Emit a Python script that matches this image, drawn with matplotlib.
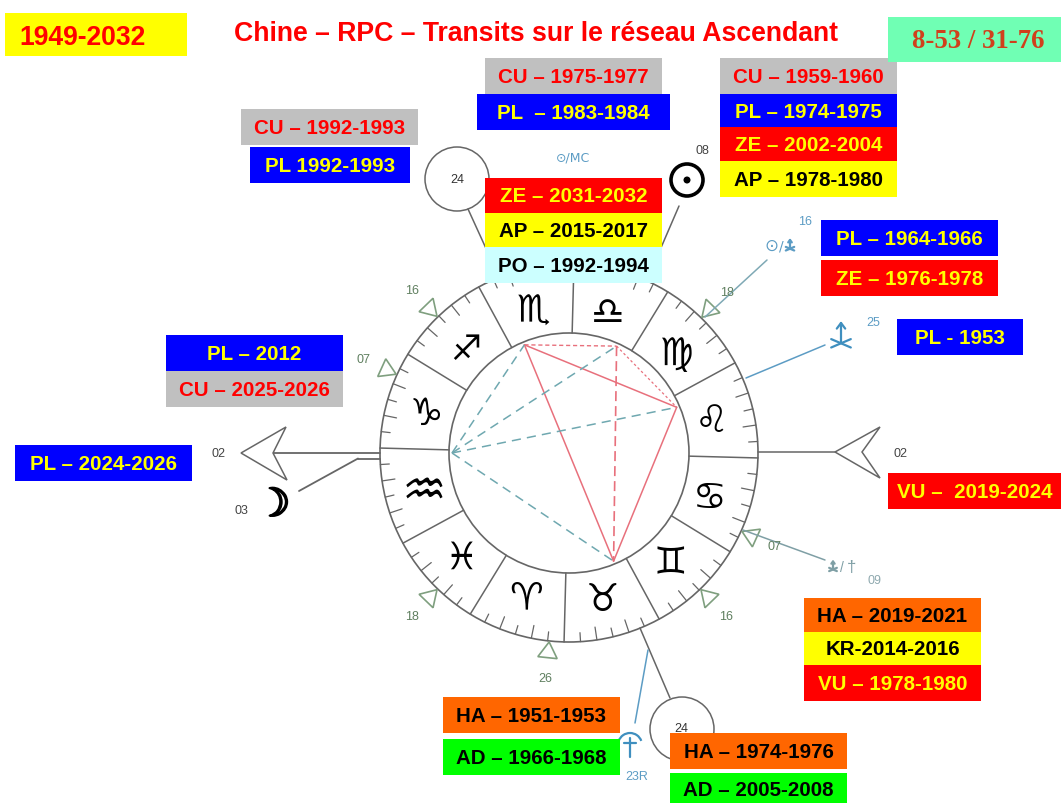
#!/usr/bin/env python3
# -*- coding: utf-8 -*-
import numpy as np
import matplotlib
matplotlib.use('Agg')
import matplotlib.pyplot as plt
import matplotlib.patheffects as pe
from matplotlib.patches import Circle, Polygon, Rectangle, Arc

# wheel
sign_glyphs = ['♌', '♍', '♎', '♏', '♐', '♑', '♒', '♓', '♈', '♉', '♊', '♋']
sign_angles = [13.5, 43.5, 74.5, 103.5, 133.5, 163.5, 193.5, 223.5, 253.5, 283.5, 313.5, 343.5]
sign_sizes = [27, 27, 27, 27, 25, 27, 36, 27, 27, 27, 27, 27]
cusp_angles = [-1.5, 28.5, 58.5, 88.5, 118.5, 148.5, 178.5, 208.5, 238.5, 268.5, 298.5, 328.5]

# open triangles on the rim and their degree labels
tri_angles = [134, 155.5, 226, 264, 314, 335.6, 45.6]
tri_labels = ['16', '07', '18', '26', '16', '07', '18']

# aspect points on the inner circle
asp_names = ['A', 'B', 'C', 'D', 'E']
asp_angles = [112.4, 66, 23, -67.6, 180]
red_solid = [('A', 'C'), ('A', 'D'), ('C', 'D')]
teal_dash = [('E', 'A'), ('E', 'B'), ('E', 'C'), ('E', 'D')]

# transit labels
labels = ['CU – 1992-1993', 'PL 1992-1993',
          'CU – 1975-1977', 'PL  – 1983-1984',
          'CU – 1959-1960', 'PL – 1974-1975', 'ZE – 2002-2004', 'AP – 1978-1980',
          'ZE – 2031-2032', 'AP – 2015-2017', 'PO – 1992-1994',
          'PL – 1964-1966', 'ZE – 1976-1978',
          'PL - 1953',
          'PL – 2012', 'CU – 2025-2026',
          'PL – 2024-2026',
          'VU –  2019-2024',
          'HA – 2019-2021', 'KR-2014-2016', 'VU – 1978-1980',
          'HA – 1951-1953', 'AD – 1966-1968',
          'HA – 1974-1976', 'AD – 2005-2008']
planets = [lab[:2] for lab in labels]
box_left = [241, 250, 485, 477, 720, 720, 720, 720, 485, 485, 485, 821, 821, 897,
            166, 166, 15, 888, 804, 804, 804, 443, 443, 670, 670]
box_right = [418, 410, 662, 670, 897, 897, 897, 897, 662, 662, 662, 998, 998, 1023,
             343, 343, 192, 1061, 981, 981, 981, 620, 620, 847, 847]
box_top = [109, 147, 58, 94, 58, 94, 127, 161, 178, 213, 247, 220, 260, 319,
           335, 371, 445, 473, 598, 632, 665, 697, 739, 733, 773]
box_bottom = [145, 183, 94, 130, 94, 127, 161, 197, 213, 247, 283, 256, 296, 355,
              371, 407, 481, 509, 632, 665, 701, 733, 775, 769, 805]

fill_col = {'CU': '#c0c0c0', 'PL': '#0000ff', 'ZE': '#ff0000', 'AP': '#ffff00',
            'PO': '#ccffff', 'VU': '#ff0000', 'HA': '#ff6600', 'KR': '#ffff00',
            'AD': '#00ff00'}
text_col = {'CU': '#ff0000', 'PL': '#ffff00', 'ZE': '#ffff00', 'AP': 'black',
            'PO': 'black', 'VU': '#ffff00', 'HA': 'black', 'KR': 'black',
            'AD': 'black'}

cx, cy = 569, 453
r_out, r_in = 189, 120
line_col = '#666666'
blue_col = '#5c9cc4'
green_col = '#7f9f7f'
num_col = '#5f7f5f'


def pol(ang, r):
    return cx + r*np.cos(np.radians(ang)), cy - r*np.sin(np.radians(ang))


def seg(x0, y0, x1, y1, color=line_col, lw=1.1, ls='-', z=2):
    ax.plot([x0, x1], [y0, y1], color=color, lw=lw, ls=ls, zorder=z,
            solid_capstyle='round')


def trident(x, y, s, color):
    # small arrow with two legs, drawn by hand, no font has it
    seg(x, y + 0.45*s, x, y - s, color, 1.6)
    seg(x - 0.3*s, y - 0.6*s, x, y - s, color, 1.6)
    seg(x + 0.3*s, y - 0.6*s, x, y - s, color, 1.6)
    seg(x - 0.7*s, y + 0.75*s, x + 0.7*s, y + 0.15*s, color, 1.6)
    seg(x + 0.7*s, y + 0.75*s, x - 0.7*s, y + 0.15*s, color, 1.6)


fig = plt.figure(figsize=(10.61, 8.04), dpi=100)
ax = fig.add_axes([0, 0, 1, 1])
ax.set_xlim(0, 1061)
ax.set_ylim(803, -1)
ax.axis('off')

# wheel
ax.add_patch(Circle((cx, cy), r_out, fc='none', ec=line_col, lw=1.2, zorder=2))
ax.add_patch(Circle((cx, cy), r_in, fc='none', ec=line_col, lw=1.2, zorder=2))
for a in cusp_angles:
    x0, y0 = pol(a, r_in)
    x1, y1 = pol(a, r_out)
    seg(x0, y0, x1, y1)
    for k in range(1, 6):
        tl = 13 if k % 2 == 0 else 9
        x0, y0 = pol(a + 5*k, r_out - tl)
        x1, y1 = pol(a + 5*k, r_out)
        seg(x0, y0, x1, y1, lw=0.9)
for g, a, s in zip(sign_glyphs, sign_angles, sign_sizes):
    x, y = pol(a, 148)
    ax.text(x - 1, y + 3, g, fontsize=s, ha='center', va='center', color='black',
            family='DejaVu Sans', zorder=3)

# triangles on the rim
for a, lab in zip(tri_angles, tri_labels):
    p0 = pol(a, r_out + 1)
    p1 = pol(a + 2.7, r_out + 17)
    p2 = pol(a - 2.7, r_out + 17)
    ax.add_patch(Polygon([p0, p1, p2], closed=True, fc='white', ec=green_col, lw=1.2, zorder=2))
    x, y = pol(a, r_out + 37)
    ax.text(x, y, lab, fontsize=9, color=num_col, ha='center', va='center',
            family='Liberation Sans')

# aspects
pts = {n: pol(a, r_in - 3) for n, a in zip(asp_names, asp_angles)}
for p, q in red_solid:
    seg(*pts[p], *pts[q], color='#e8707c', lw=1.1)
seg(*pts['A'], *pts['B'], color='#e8707c', lw=1.0, ls=(0, (3, 2)))
seg(*pts['B'], *pts['C'], color='#e8707c', lw=0.9, ls=(0, (2, 2)))
seg(*pts['B'], *pts['D'], color='#e8707c', lw=1.2, ls=(0, (6, 3)))
for p, q in teal_dash:
    seg(*pts[p], *pts[q], color='#6fa8b0', lw=1.1, ls=(0, (6, 4)))

# ascendant axis, left
seg(273, 453, 380, 453, lw=1.3)
seg(358, 458.5, 380, 458.5, lw=1.3)
seg(358, 458.5, 299, 491, lw=1.3)
ax.add_patch(Polygon([(241, 453), (286, 427), (273, 453), (287, 480)], closed=True,
                     fc='white', ec=line_col, lw=1.1, zorder=2))
ax.text(219, 453, '02', fontsize=9, color='#444444', ha='center', va='center', family='Liberation Sans')
ax.text(241, 510, '03', fontsize=9, color='#444444', ha='center', va='center', family='Liberation Sans')
ax.text(273, 505, '☽', fontsize=28, color='black', ha='center', va='center', family='DejaVu Sans',
        path_effects=[pe.withStroke(linewidth=1.4, foreground='black')])

# axis, right
seg(758, 452, 862, 452, lw=1.1)
ax.add_patch(Polygon([(835, 452), (880, 427), (862, 452), (880, 478)], closed=True,
                     fc='white', ec=line_col, lw=1.1, zorder=2))
ax.text(900, 453, '02', fontsize=9, color='#444444', ha='center', va='center', family='Liberation Sans')

# planet circle, top left
ax.add_patch(Circle((457, 179), 32, fc='white', ec=line_col, lw=1.1, zorder=2))
ax.text(457, 179, '24', fontsize=9, color='#333333', ha='center', va='center', family='Liberation Sans')
seg(468, 209, 489, 255)

# sun
ax.add_patch(Circle((687, 180), 16, fc='none', ec='black', lw=2.6, zorder=2))
ax.add_patch(Circle((687, 180), 3.5, fc='black', ec='black', lw=0, zorder=2))
ax.text(702, 150, '08', fontsize=9, color='#444444', ha='center', va='center', family='Liberation Sans')
seg(679, 206, 660, 250)

# midpoints, blue
ax.text(573, 157, '⊙/MC', fontsize=9, color=blue_col, ha='center', va='center', family='DejaVu Sans')
ax.text(771, 245, '⊙', fontsize=12, color=blue_col, ha='center', va='center', family='DejaVu Sans')
ax.text(781, 245, '/', fontsize=10, color=blue_col, ha='center', va='center', family='DejaVu Sans')
trident(790, 246, 6, blue_col)
ax.text(805, 221, '16', fontsize=9, color=blue_col, ha='center', va='center', family='Liberation Sans')
seg(767, 260, 705, 317, color='#7fa9b5')
trident(841, 337, 14, '#3f8fbf')
ax.text(873, 322, '25', fontsize=9, color=blue_col, ha='center', va='center', family='Liberation Sans')
seg(825, 345, 746, 378, color=blue_col)

# lower right
seg(743, 530, 825, 560, color='#7f9fa5')
trident(833, 567, 5.5, '#7f9fa5')
ax.text(842, 567, '/', fontsize=10, color='#7f9fa5', ha='center', va='center', family='Liberation Sans')
ax.text(851, 567, '†', fontsize=12, color='#7f9fa5', ha='center', va='center', family='Liberation Sans')
ax.text(875, 580, '09', fontsize=9, color='#8fa9af', ha='center', va='center', family='Liberation Sans')

# bottom planet and blue glyph
seg(640, 628, 670, 698)
ax.add_patch(Circle((682, 729), 32, fc='white', ec=line_col, lw=1.1, zorder=2))
ax.text(681, 728, '24', fontsize=9, color='#333333', ha='center', va='center', family='Liberation Sans')
seg(648, 650, 635, 723, color=blue_col)
ax.add_patch(Arc((630, 745), 24, 24, theta1=200, theta2=340, ec='#3f8fbf', lw=1.6, zorder=2))
seg(630, 738, 630, 757, color='#3f8fbf', lw=1.6)
seg(624, 743, 636, 743, color='#3f8fbf', lw=1.6)
ax.text(637, 776, '23R', fontsize=9, color=blue_col, ha='center', va='center', family='Liberation Sans')

# label boxes
for lab, pl, x0, x1, y0, y1 in zip(labels, planets, box_left, box_right, box_top, box_bottom):
    ax.add_patch(Rectangle((x0, y0), x1 - x0, y1 - y0, fc=fill_col[pl], ec='none', zorder=5))
    ax.text((x0 + x1)/2, (y0 + y1)/2 + 0.5, lab, fontsize=14.8, fontweight='bold', color=text_col[pl],
            ha='center', va='center', family='Liberation Sans', zorder=6)

# header
ax.add_patch(Rectangle((5, 13), 182, 43, fc='#ffff00', ec='none', zorder=5))
ax.text(19, 37, '1949-2032', fontsize=19.1, fontweight='bold', color='#ff0000',
        ha='left', va='center', family='Liberation Sans', zorder=6)
ax.text(536, 33, 'Chine – RPC – Transits sur le réseau Ascendant', fontsize=19.2, fontweight='bold',
        color='#ff0000', ha='center', va='center', family='Liberation Sans', zorder=6)
ax.add_patch(Rectangle((888, 17), 173, 45, fc='#70ffb4', ec='none', zorder=5))
ax.text(978.5, 40, '8-53 / 31-76', fontsize=19.3, fontweight='bold', color='#d0401c',
        ha='center', va='center', family='Liberation Serif', zorder=6)

fig.savefig('out.png', dpi=100)
